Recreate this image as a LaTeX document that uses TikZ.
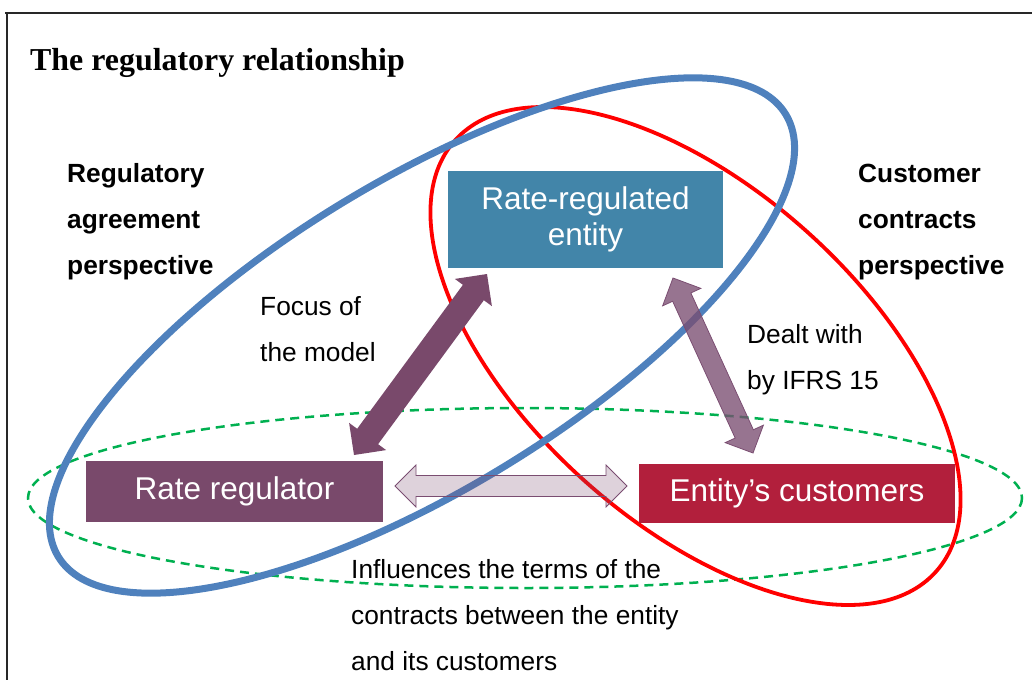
\documentclass[tikz,border=0pt]{standalone}
\usepackage{fontspec}
\setmainfont{Liberation Serif}
\newfontfamily\arialf{Liberation Sans}
\usetikzlibrary{calc}
\definecolor{ellblue}{RGB}{79,129,189}
\definecolor{ellred}{RGB}{255,0,0}
\definecolor{ellgreen}{RGB}{0,176,80}
\definecolor{entblue}{RGB}{66,133,169}
\definecolor{regplum}{RGB}{121,73,107}
\definecolor{custred}{RGB}{178,31,60}
\definecolor{arrplum}{RGB}{122,77,113}
\definecolor{framegray}{RGB}{40,40,40}
\newcommand\blockarr[6]{%
  \path ($(#2)!#4!(#3)$) coordinate (ha) ($(#3)!#4!(#2)$) coordinate (hb);
  \draw[#1] (#2) -- ($(ha)!#5!90:(#3)$) -- ($(ha)!#6!90:(#3)$) -- ($(hb)!#6!270:(#2)$) -- ($(hb)!#5!270:(#2)$) -- (#3) -- ($(hb)!#5!90:(#2)$) -- ($(hb)!#6!90:(#2)$) -- ($(ha)!#6!270:(#3)$) -- ($(ha)!#5!270:(#3)$) -- cycle;}
\begin{document}
\begin{tikzpicture}[x=1pt,y=-1pt,
  lbl/.style={inner sep=0pt, anchor=base west, font=\arialf\fontsize{26.3}{46}\selectfont},
  boldlbl/.style={inner sep=0pt, anchor=base west, font=\arialf\bfseries\fontsize{26.3}{46}\selectfont},
  box/.style={inner sep=0pt, text=white, align=center, font=\arialf\fontsize{31.5}{36}\selectfont},
  focusarr/.style={fill=regplum, draw=none},
  dealtarr/.style={fill=arrplum, fill opacity=0.78, draw=arrplum, line width=0.8pt},
  inflarr/.style={fill=arrplum, fill opacity=0.25, draw=arrplum, line width=0.8pt}]
\useasboundingbox (0,0) rectangle (1032,680);
% frame
\draw[framegray, line width=2pt] (5,13) -- (1032,13);
\draw[framegray, line width=2pt] (7,13) -- (7,680);
% title
\node[inner sep=0pt, anchor=base west, font=\bfseries\fontsize{31.9}{36}\selectfont] (title) at (30,70) {The regulatory relationship};
% ellipses
\draw[ellgreen, line width=2.5pt, dash pattern=on 9pt off 6pt] (525,498) ellipse [x radius=497, y radius=90];
\begin{scope}[shift={(695.5,356)}, rotate=-41.9]
  \draw[ellred, line width=3.8pt] (0,0) ellipse [x radius=323, y radius=167];
\end{scope}
\begin{scope}[shift={(422,335.5)}, rotate=31.3]
  \draw[ellblue, line width=7pt] (0,0) ellipse [x radius=425.7, y radius=154.7];
\end{scope}
% boxes
\node[box, fill=entblue, minimum width=275pt, minimum height=97pt] (entity) at (585.5,219.5) {Rate-regulated\\entity};
\node[box, fill=regplum, minimum width=297pt, minimum height=61pt] (regulator) at (234.5,491.5) {Rate regulator};
\node[box, fill=custred, minimum width=316pt, minimum height=59pt] (customers) at (797,493.5) {Entity’s customers};
% side labels
\node[boldlbl] (regpersp) at (67,182) {\begin{tabular}[t]{@{}l@{}}Regulatory\\agreement\\perspective\end{tabular}};
\node[boldlbl] (custpersp) at (858,182) {\begin{tabular}[t]{@{}l@{}}Customer\\contracts\\perspective\end{tabular}};
\node[lbl] (focus) at (260,315) {\begin{tabular}[t]{@{}l@{}}Focus of\\the model\end{tabular}};
\node[lbl] (dealt) at (747,343) {\begin{tabular}[t]{@{}l@{}}Dealt with\\by IFRS 15\end{tabular}};
\node[lbl] (infl) at (351,578) {\begin{tabular}[t]{@{}l@{}}Influences the terms of the\\contracts between the entity\\and its customers\end{tabular}};
% arrows
\coordinate (fa) at (354,455);
\coordinate (fb) at (487,274);
\coordinate (da) at (673,278);
\coordinate (db) at (753,453);
\coordinate (ia) at (395,486);
\coordinate (ib) at (627,486);
\blockarr{focusarr}{fa}{fb}{23pt}{23pt}{13pt}
\blockarr{dealtarr}{da}{db}{21pt}{21pt}{10pt}
\blockarr{inflarr}{ia}{ib}{21pt}{21pt}{10.5pt}
\end{tikzpicture}
\end{document}
